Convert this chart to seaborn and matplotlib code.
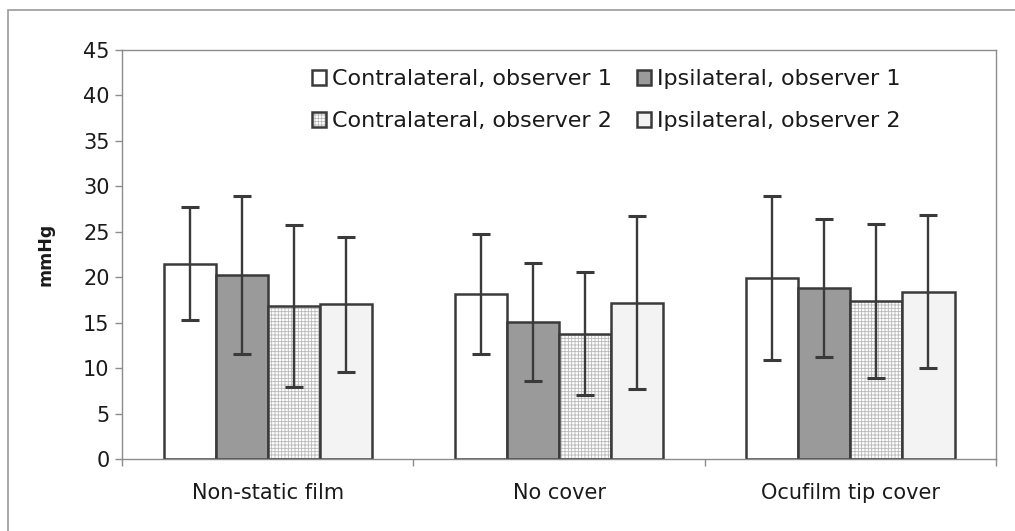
import numpy as np
import pandas as pd
import matplotlib
matplotlib.use("Agg")
import matplotlib.pyplot as plt
import seaborn as sns
from matplotlib.patches import Rectangle
from matplotlib.ticker import FixedLocator
from matplotlib.colors import to_rgba

# ---- data ----
categories = ["Non-static film", "No cover", "Ocufilm tip cover"]
series = ["Contralateral, observer 1", "Ipsilateral, observer 1",
          "Contralateral, observer 2", "Ipsilateral, observer 2"]
contra_obs1 = [21.5, 18.2, 19.9]
ipsi_obs1 = [20.2, 15.1, 18.8]
contra_obs2 = [16.8, 13.8, 17.4]
ipsi_obs2 = [17.0, 17.2, 18.4]
contra_obs1_sd = [6.2, 6.6, 9.0]
ipsi_obs1_sd = [8.7, 6.5, 7.6]
contra_obs2_sd = [8.9, 6.8, 8.5]
ipsi_obs2_sd = [7.4, 9.5, 8.4]
yticks = [0, 5, 10, 15, 20, 25, 30, 35, 40, 45]

means = [contra_obs1, ipsi_obs1, contra_obs2, ipsi_obs2]
sds = [contra_obs1_sd, ipsi_obs1_sd, contra_obs2_sd, ipsi_obs2_sd]

rows = []
for s, vals in zip(series, means):
    for c, v in zip(categories, vals):
        rows.append({"cover": c, "series": s, "mmHg": v})
df = pd.DataFrame(rows)

sns.set_style("white")
plt.rcParams["font.family"] = ["DejaVu Sans"]
plt.rcParams["hatch.linewidth"] = 0.6

dark = "#3a3a3a"
frame = "#8c8c8c"
palette = ["#ffffff", "#9a9a9a", "#ffffff", "#f3f3f3"]

fig = plt.figure(figsize=(10.15, 5.31), dpi=100, facecolor="white")
ax = fig.add_axes([0.1202, 0.1356, 0.8611, 0.7702])

sns.barplot(data=df, x="cover", y="mmHg", hue="series", order=categories,
            hue_order=series, palette=palette, saturation=1, errorbar=None,
            width=0.715, edgecolor=dark, linewidth=1.8, legend=False, ax=ax)

bar_containers = list(ax.containers)
# hatch grid for contralateral observer 2
for p in bar_containers[2].patches:
    p.set_hatch("+++++")
    if hasattr(p, "set_hatchcolor"):
        p.set_hatchcolor("#b8b8b8")
    else:
        p._hatch_color = to_rgba("#b8b8b8")

handles = [bar_containers[i].patches[0] for i in range(4)]

# error bars centred on the drawn bars
for cont, m, sd in zip(bar_containers, means, sds):
    xs = [b.get_x() + b.get_width() / 2 for b in cont.patches]
    ax.errorbar(xs, m, yerr=sd, fmt="none", ecolor=dark, elinewidth=1.7,
                capsize=6.5, capthick=2.2, zorder=5)

ax.set_ylim(0, 45)
ax.set_xlim(-0.5, 2.5)
ax.set_yticks(yticks)
for s in ax.spines.values():
    s.set_visible(True)
    s.set_color(frame)
    s.set_linewidth(1.0)

ax.tick_params(axis="y", left=True, length=5, width=1, color=frame,
               labelsize=15, pad=4, labelcolor="#1a1a1a", direction="out")
ax.tick_params(axis="x", which="major", length=0, pad=17, labelsize=15,
               labelcolor="#1a1a1a")
ax.xaxis.set_minor_locator(FixedLocator([-0.5, 0.5, 1.5, 2.5]))
ax.tick_params(axis="x", which="minor", bottom=True, length=5, width=1,
               color=frame, direction="out")

ax.set_xlabel("")
ax.set_ylabel("mmHg", fontsize=12.5, fontweight="bold", color="#1a1a1a")
ax.yaxis.set_label_coords(-0.077, 0.5)

leg_order = [0, 2, 1, 3]
ax.legend([handles[i] for i in leg_order], [series[i] for i in leg_order],
          loc="upper left", bbox_to_anchor=(0.2174, 0.953), ncol=2,
          frameon=False, fontsize=16, handlelength=0.63, handleheight=0.63,
          handletextpad=0.27, columnspacing=1.15, labelspacing=0.99,
          borderpad=0, borderaxespad=0, labelcolor="#1a1a1a")

# outer chart-area border (partly cropped in the reference)
fig.add_artist(Rectangle((8 / 1015, -0.1), 1.2, 1.1 - 10 / 531,
                         transform=fig.transFigure, fill=False,
                         edgecolor="#9a9a9a", linewidth=1.2))

fig.savefig("out.png", dpi=100, facecolor="white")
